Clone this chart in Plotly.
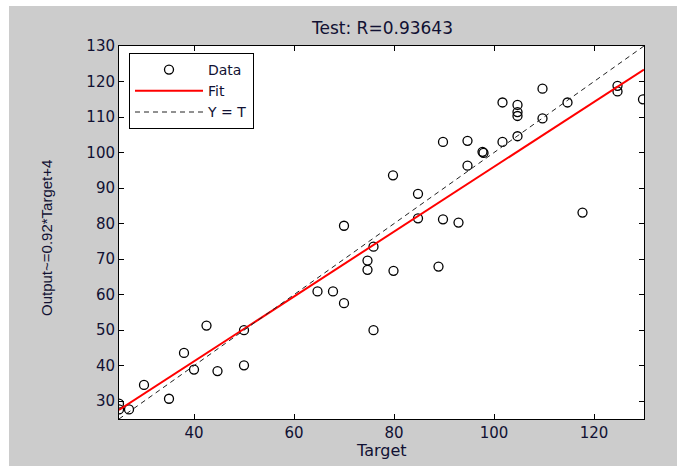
import plotly.graph_objects as go

# ---- data ----
target = [25, 25, 27, 30, 35, 38, 40, 42.5, 44.7, 50, 50,
          64.7, 67.8, 70, 70, 74.7, 74.7, 75.9, 75.9,
          79.8, 79.9, 84.8, 84.8, 88.9, 89.8, 89.8, 92.9,
          94.7, 94.7, 97.7, 97.9, 101.7, 101.7,
          104.7, 104.7, 104.7, 104.7, 109.7, 109.7, 114.7, 117.7,
          124.7, 124.7, 129.8]
output = [29.3, 27.7, 27.7, 34.6, 30.7, 43.6, 38.9, 51.3, 38.5, 50, 40.1,
          60.9, 60.9, 57.6, 79.4, 69.6, 67, 73.5, 50,
          93.6, 66.7, 88.4, 81.5, 67.9, 103, 81.2, 80.3,
          103.3, 96.3, 100.2, 99.9, 103, 114.1,
          113.4, 111.4, 110.3, 104.6, 118, 109.6, 114.1, 83.1,
          118.8, 117.2, 115]

fit_slope = 0.913
fit_intercept = 4.7
line_x = [25, 130]
x_range = [25, 130]
y_range = [25, 130]
x_ticks = [40, 60, 80, 100, 120]
y_ticks = [30, 40, 50, 60, 70, 80, 90, 100, 110, 120, 130]

title_text = "Test: R=0.93643"
x_title = "Target"
y_title = "Output~=0.92*Target+4"

fit_y = [fit_slope * v + fit_intercept for v in line_x]

W, H = 677, 466
L, R, T, B = 119, 33, 46, 47
PW, PH = W - L - R, H - T - B

font_main = "DejaVu Sans, Arial, sans-serif"
text_col = "#111133"

fig = go.Figure()
fig.add_trace(go.Scatter(
    x=target, y=output, mode="markers", name="Data",
    marker=dict(symbol="circle-open", size=9, color="black",
                line=dict(width=1.3, color="black")),
))
fig.add_trace(go.Scatter(
    x=line_x, y=fit_y, mode="lines", name="Fit",
    line=dict(color="#ff0000", width=2),
))
fig.add_trace(go.Scatter(
    x=line_x, y=line_x, mode="lines", name="Y = T",
    line=dict(color="#222222", width=1, dash="5px,4px"),
))

axis_common = dict(
    showgrid=False, zeroline=False, showline=True, linecolor="black",
    linewidth=1, mirror="ticks", ticks="inside", ticklen=5,
    tickcolor="black", tickwidth=1,
    tickfont=dict(family=font_main, size=15, color=text_col),
)

fig.update_xaxes(range=x_range, tickvals=x_ticks, **axis_common)
fig.update_yaxes(range=y_range, tickvals=y_ticks, **axis_common)

def px_x(p):
    return (p - L) / PW

def px_y(p):
    return (H - B - p) / PH

fig.update_layout(
    width=W, height=H,
    margin=dict(l=L, r=R, t=T, b=B),
    paper_bgcolor="#cccccc", plot_bgcolor="white",
    showlegend=True,
    legend=dict(
        x=px_x(129), y=px_y(53), xanchor="left", yanchor="top",
        bgcolor="white", bordercolor="black", borderwidth=1,
        font=dict(family=font_main, size=14, color=text_col),
        itemwidth=68, tracegroupgap=0,
    ),
    shapes=[
        dict(type="rect", xref="paper", yref="paper",
             x0=px_x(0), x1=px_x(9), y0=px_y(H), y1=px_y(0),
             fillcolor="white", line=dict(width=0), layer="above"),
        dict(type="rect", xref="paper", yref="paper",
             x0=px_x(0), x1=px_x(W), y0=px_y(6), y1=px_y(0),
             fillcolor="white", line=dict(width=0), layer="above"),
    ],
    annotations=[
        dict(text=title_text, xref="paper", yref="paper",
             x=0.5, y=px_y(28), xanchor="center", yanchor="middle",
             showarrow=False,
             font=dict(family=font_main, size=17, color=text_col)),
        dict(text=x_title, xref="paper", yref="paper",
             x=0.5, y=px_y(450), xanchor="center", yanchor="middle",
             showarrow=False,
             font=dict(family=font_main, size=16, color=text_col)),
        dict(text=y_title, xref="paper", yref="paper",
             x=px_x(46), y=px_y(238), xanchor="center", yanchor="middle",
             textangle=-90, showarrow=False,
             font=dict(family="Liberation Sans, Arial, sans-serif",
                       size=15, color=text_col)),
    ],
)

fig.write_html("out.html",
               config={"displayModeBar": False},
               post_script="document.body.style.margin='0px';")
